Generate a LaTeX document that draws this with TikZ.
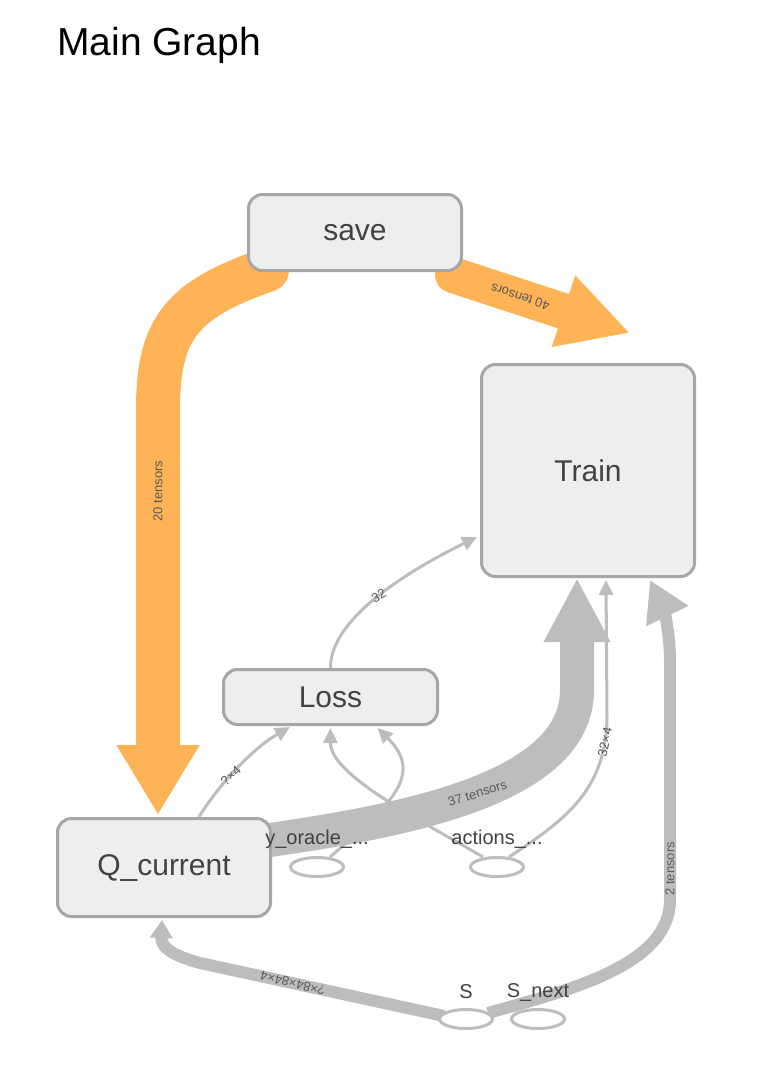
\documentclass[tikz,border=0pt]{standalone}
\usepackage{fontspec}
\setmainfont{Liberation Sans}
\usetikzlibrary{arrows.meta,shapes.geometric,calc,backgrounds}
\definecolor{orng}{RGB}{255,179,87}
\definecolor{edgegray}{RGB}{189,189,189}
\definecolor{nodefill}{RGB}{238,238,238}
\definecolor{nodeborder}{RGB}{166,166,166}
\definecolor{txt}{RGB}{66,66,66}
\definecolor{lbl}{RGB}{90,90,90}
\begin{document}
\begin{tikzpicture}[x=1pt,y=-1pt,
  box/.style={draw=nodeborder, fill=nodefill, line width=3pt, rounded corners=14pt,
    text=txt, font=\fontsize{30}{36}\selectfont, inner sep=0pt},
  ell/.style={ellipse, draw=edgegray, fill=white, line width=3pt, inner sep=0pt,
    minimum width=53pt, minimum height=19pt},
  opname/.style={text=txt, font=\fontsize{20}{24}\selectfont, inner sep=0pt},
  elabel/.style={text=lbl, font=\fontsize{13}{15}\selectfont, inner sep=1pt},
  thinedge/.style={draw=edgegray, line width=3pt, -{Triangle[width=14pt,length=15pt]}},
  thickedge/.style={draw=edgegray, line width=12pt},
]
\useasboundingbox (0,0) rectangle (764,1082);

% nodes
\node[anchor=base west, font=\fontsize{39}{44}\selectfont, inner sep=0pt] (title) at (57,55) {Main Graph};
\node[box, minimum width=213pt, minimum height=76pt] (save) at (355,232.5) {save};
\node[box, minimum width=213pt, minimum height=212pt] (train) at (588,470.5) {Train};
\node[box, minimum width=214pt, minimum height=55pt] (loss) at (330.5,697) {Loss};
\node[box, minimum width=213pt, minimum height=98pt] (qc) at (164,867.5) {Q\_current};
\node[ell] (yor) at (317,867) {};
\node[opname] (yorl) at (317,839) {y\_oracle\_...};
\node[ell] (act) at (497,867) {};
\node[opname] (actl) at (497,839) {actions\_...};
\node[ell] (S) at (466,1019) {};
\node[opname] (Sl) at (466,992) {S};
\node[ell] (Snext) at (538,1019) {};
\node[opname] (Snextl) at (538,992) {S\_next};

\begin{scope}[on background layer]
\fill[white] (0,0) rectangle (764,1082);

% save -> Q_current
\draw[orng, line width=44pt, line cap=round, -{Triangle[width=78pt,length=70pt]}]
  ($(save.south west)+(20,-2)$) .. controls (180,300) and (158,330) .. (158,410)
  -- node[elabel, pos=0.2, rotate=90] {20 tensors} ($(qc.north west)+(102,-2)$);

% save -> Train
\draw[orng, line width=36pt, line cap=round, -{Triangle[width=70pt,length=70pt]}]
  ($(save.south east)+(-10,3)$) -- node[elabel, pos=0.38, rotate=162] {40 tensors}
  ($(train.north)+(42,-30)$);

% Loss -> Train
\draw[thinedge] (loss.north) .. controls (330,615) and (420,565) ..
  node[elabel, pos=0.48, rotate=29] {32} ($(train.south west)+(-3,-41)$);

% Q_current -> Loss
\draw[thinedge] ($(qc.north west)+(143,0)$) .. controls (215,790) and (250,750) ..
  node[elabel, pos=0.45, rotate=42] {?×4} ($(loss.south west)+(68,1)$);

% actions -> Loss
\draw[thinedge] ($(act.north)+(-14,1)$) .. controls (420,820) and (330,775) ..
  ($(loss.south)+(0,2)$);

% y_oracle -> Loss
\draw[thinedge] ($(yor.north)+(13,1)$) .. controls (390,805) and (425,775) ..
  ($(loss.south)+(47,2)$);

% Q_current -> Train (big)
\draw[edgegray, line width=34pt, -{Triangle[width=62pt,length=64pt]}]
  ($(qc.east)+(-20,-25)$) .. controls (400,822) and (577,790) ..
  node[elabel, pos=0.52, rotate=17] {37 tensors} (577,690)
  -- ($(train.south)+(-11,0)$);

% actions -> Train
\draw[thinedge] ($(act.north)+(12,1)$) .. controls (565,820) and (607,790) ..
  node[elabel, pos=0.87, rotate=78] {32×4} (607,715)
  -- ($(train.south)+(18,2)$);

% S -> Q_current
\draw[thickedge, -{Triangle[width=22pt,length=18pt]}]
  ($(S.west)+(6,-3)$) -- node[elabel, pos=0.62, rotate=166] {?×84×84×4} (200,963)
  .. controls (167,954) and (161,945) .. ($(qc.south west)+(106,2)$);

% S -> Train
\draw[thickedge, -{Triangle[width=44pt,length=40pt]}]
  ($(S.east)+(-6,-6)$) .. controls (570,990) and (670,965) .. (670,900)
  -- node[elabel, pos=0.13, rotate=90] {2 tensors} (670,660)
  .. controls (670,630) and (662,605) .. ($(train.south)+(62,2)$);
\end{scope}
\end{tikzpicture}
\end{document}
